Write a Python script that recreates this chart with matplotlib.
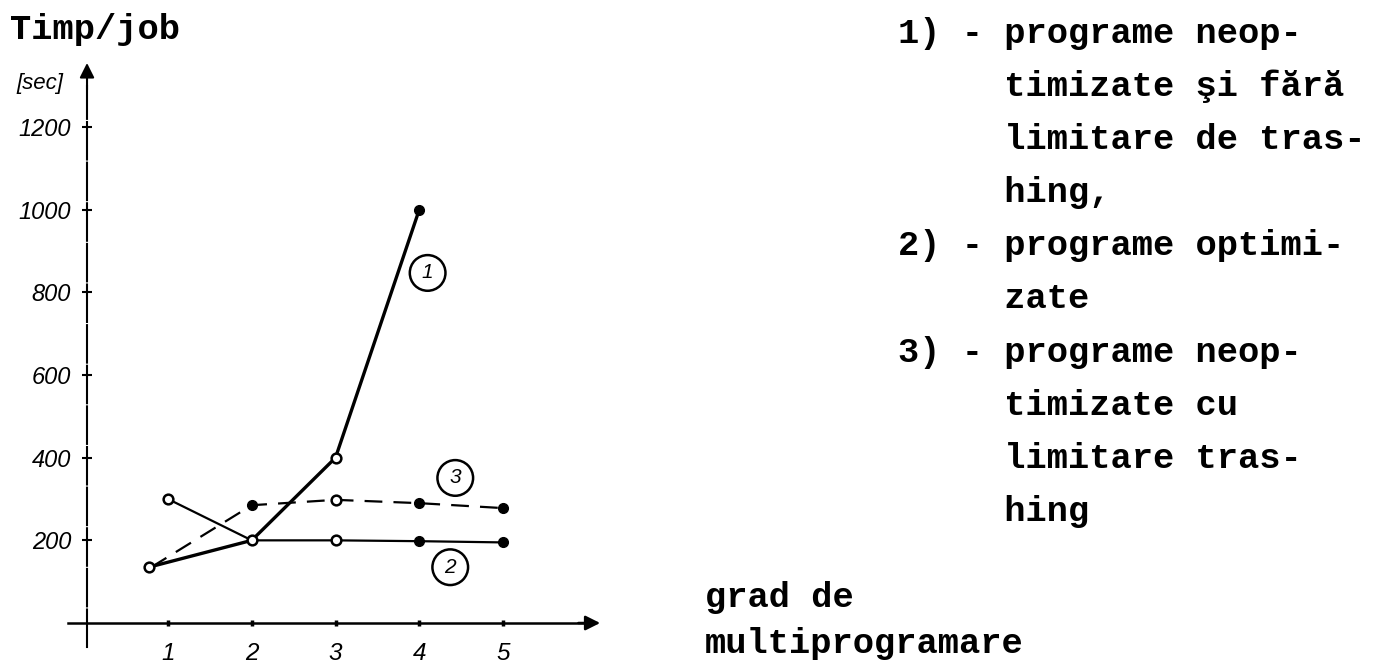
import matplotlib
matplotlib.use("Agg")
import matplotlib.pyplot as plt

# values
grad = [1, 2, 3, 4, 5]
grad_labels = ["1", "2", "3", "4", "5"]
y_ticks = [200, 400, 600, 800, 1000, 1200]
y_labels = ["200", "400", "600", "800", "1000", "1200"]

# 1) neoptimizate, fara limitare de trashing
x1 = [0.77, 2, 3, 4]
t1 = [135, 200, 400, 1000]
# 2) optimizate
x2 = [1, 2, 3, 4, 5]
t2 = [300, 200, 200, 198, 195]
# 3) neoptimizate cu limitare trashing
x3 = [0.8, 2, 3, 4, 5]
t3 = [135, 285, 298, 290, 278]

legend_lines = [
    "1) - programe neop-",
    "     timizate şi fără",
    "     limitare de tras-",
    "     hing,",
    "2) - programe optimi-",
    "     zate",
    "3) - programe neop-",
    "     timizate cu",
    "     limitare tras-",
    "     hing",
]

W, H = 1375, 669
fig = plt.figure(figsize=(W / 100, H / 100), dpi=100)
ax = fig.add_axes([60 / W, 19 / H, 550 / W, 590 / H])
ax.set_xlim(-0.2896, 6.2776)
ax.set_ylim(-65.3, 1362.2)
ax.patch.set_alpha(0)

hand = dict(family="Liberation Sans", style="italic")
mono = dict(family="Liberation Mono", weight="bold")

# axes drawn like the hand sketch
for s in ["top", "right"]:
    ax.spines[s].set_visible(False)
ax.spines["left"].set_position(("data", 0.033))
ax.spines["bottom"].set_position(("data", 0))
ax.spines["left"].set_bounds(-58, 1300)
ax.spines["bottom"].set_bounds(-0.19, 5.95)
ax.spines["left"].set_linewidth(1.5)
ax.spines["left"].set_linestyle((0, (18, 1.5)))
ax.spines["bottom"].set_linewidth(1.8)
ax.annotate("", xy=(0.033, 1355), xytext=(0.033, 1290),
            arrowprops=dict(arrowstyle="-|>", color="k", lw=1.5,
                            mutation_scale=22, shrinkA=0, shrinkB=0))
ax.annotate("", xy=(6.16, 0), xytext=(5.9, 0),
            arrowprops=dict(arrowstyle="-|>", color="k", lw=1.8,
                            mutation_scale=22, shrinkA=0, shrinkB=0))

ax.set_xticks(grad)
ax.set_xticklabels(grad_labels, fontsize=17.5, **hand)
ax.set_yticks(y_ticks)
ax.set_yticklabels(y_labels, fontsize=17, **hand)
ax.tick_params(axis="x", direction="inout", length=5, width=2.5, pad=11)
ax.tick_params(axis="y", direction="inout", length=7, width=1.5, pad=8)

# curves
ax.plot(x1, t1, color="k", lw=2.4, zorder=3)
ax.plot(x2, t2, color="k", lw=1.6, zorder=3)
ax.plot(x3, t3, color="k", lw=1.6, dashes=(8, 5), zorder=3)

ms = 7
# open circles
ax.plot([x1[0], x1[1], x1[2]], [t1[0], t1[1], t1[2]], "o", ms=ms,
        mfc="white", mec="k", mew=1.8, zorder=5)
ax.plot([x2[0], x2[2]], [t2[0], t2[2]], "o", ms=ms,
        mfc="white", mec="k", mew=1.8, zorder=5)
ax.plot([x3[2]], [t3[2]], "o", ms=ms, mfc="white", mec="k", mew=1.8, zorder=5)
# filled dots
ax.plot([x1[3]], [t1[3]], "o", ms=ms, color="k", zorder=5)
ax.plot([x2[3], x2[4]], [t2[3], t2[4]], "o", ms=ms, color="k", zorder=5)
ax.plot([x3[1], x3[3], x3[4]], [t3[1], t3[3], t3[4]], "o", ms=ms,
        color="k", zorder=5)

# circled curve numbers
circ = dict(boxstyle="circle,pad=0.4", fc="white", ec="k", lw=1.8)
ax.text(4.10, 847, "1", ha="center", va="center", fontsize=15, bbox=circ, **hand)
ax.text(4.37, 135, "2", ha="center", va="center", fontsize=15, bbox=circ, **hand)
ax.text(4.43, 351, "3", ha="center", va="center", fontsize=15, bbox=circ, **hand)

# labels around the axes
fig.text(10 / W, 1 - 30 / H, "Timp/job", ha="left", va="center",
         fontsize=25.5, **mono)
fig.text(40 / W, 1 - 83 / H, "[sec]", ha="center", va="center",
         fontsize=16, **hand)
fig.text(705 / W, 1 - 597 / H, "grad de", ha="left", va="center",
         fontsize=25.5, **mono)
fig.text(705 / W, 1 - 643 / H, "multiprogramare", ha="left", va="center",
         fontsize=25.5, **mono)

# legend text on the right
for i, line in enumerate(legend_lines):
    fig.text(898 / W, 1 - (33 + i * 53.2) / H, line, ha="left", va="center",
             fontsize=25.5, **mono)

fig.savefig("out.png", dpi=100)
